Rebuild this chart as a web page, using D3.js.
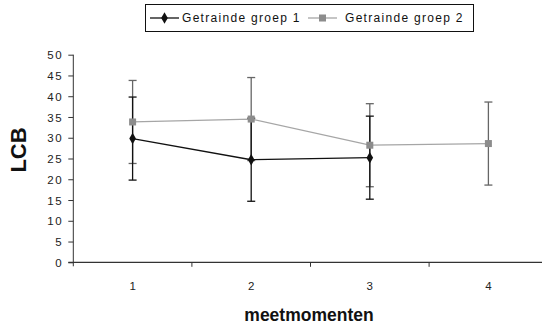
<!DOCTYPE html>
<html><head><meta charset="utf-8">
<script src="https://cdn.jsdelivr.net/npm/d3@7"></script>
<style>
html,body{margin:0;padding:0;background:#fff;}
svg{display:block;font-family:Arial,"Liberation Sans",sans-serif;}
</style></head>
<body><svg id="c" width="542" height="330"></svg>
<script>
const categories = ["1","2","3","4"];
const seriesNames = ["Getrainde groep 1","Getrainde groep 2"];
const group1 = [29.8, 24.7, 25.2, null];
const group2 = [33.8, 34.5, 28.2, 28.6];
const group1Err = [10, 10, 10, null];
const group2Err = [10, 10, 10, 10];
const yTicks = [0,5,10,15,20,25,30,35,40,45,50];
const xTitle = "meetmomenten";
const yTitle = "LCB";

const svg = d3.select("#c");
const x0 = 73.3, step = 118.6;
const x = d3.scaleBand().domain(categories).range([x0, x0 + step*categories.length]).padding(0);
const y = d3.scaleLinear().domain([0,50]).range([262.3, 54.7]);
const cx = d => x(d) + x.bandwidth()/2;

// axes
const axisCol = "#333";
const yAxis = svg.append("g").attr("transform", `translate(${x0},0)`)
  .call(d3.axisLeft(y).tickValues(yTicks).tickSize(5).tickSizeOuter(0).tickPadding(5));
yAxis.select(".domain").attr("stroke", axisCol).attr("d", `M0,${y(50)}V${y(0)+4}`);
yAxis.selectAll(".tick line").attr("stroke", axisCol);
yAxis.selectAll(".tick text").attr("font-size", 11.5).attr("fill", "#222").style("letter-spacing","1.6px").attr("dy","0.36em");

const xAxis = svg.append("g").attr("transform", `translate(0,${y(0)})`)
  .call(d3.axisBottom(x).tickSize(0).tickPadding(20));
xAxis.select(".domain").attr("stroke", axisCol).attr("stroke-width",1.2).attr("d", `M${x0-5},0H${x0+step*4}`);
xAxis.selectAll(".tick text").attr("font-size", 11.5).attr("fill","#222");
categories.forEach(c => {
  if (x(c) > x0) svg.append("line").attr("x1", x(c)).attr("x2", x(c))
    .attr("y1", y(0)).attr("y2", y(0)+4.5).attr("stroke", axisCol);
});

// titles
svg.append("text").attr("x", 309).attr("y", 321).attr("text-anchor","middle")
  .attr("font-size", 17.5).attr("font-weight","bold").attr("fill","#111").text(xTitle);
svg.append("text").attr("transform", `translate(25.5,150) rotate(-90)`).attr("text-anchor","middle")
  .attr("font-size", 22).attr("font-weight","bold").attr("fill","#111").text(yTitle);

// series
const series = [
  {vals: group1, err: group1Err, line: "#111", bar: "#111", marker: "diamond", mcol: "#111"},
  {vals: group2, err: group2Err, line: "#a6a6a6", bar: "#666", marker: "square", mcol: "#8c8c8c"}
];
// error bars (group2 first so group1 on top)
[series[1], series[0]].forEach(s => {
  categories.forEach((c,i) => {
    const v = s.vals[i], e = s.err[i];
    if (v == null) return;
    const g = svg.append("g").attr("stroke", s.bar).attr("stroke-width", 1.3);
    g.append("line").attr("x1", cx(c)).attr("x2", cx(c)).attr("y1", y(v+e)).attr("y2", y(v-e));
    [v+e, v-e].forEach(t => g.append("line").attr("x1", cx(c)-4).attr("x2", cx(c)+4).attr("y1", y(t)).attr("y2", y(t)));
  });
});
const lineGen = d3.line().defined(d => d.v != null).x(d => cx(d.c)).y(d => y(d.v));
series.forEach(s => {
  const pts = categories.map((c,i) => ({c, v: s.vals[i]}));
  svg.append("path").datum(pts).attr("d", lineGen).attr("fill","none").attr("stroke", s.line).attr("stroke-width", 1.3);
});
function marker(g, type, px, py, col) {
  if (type === "diamond") g.append("path").attr("d", d3.symbol(d3.symbolDiamond, 38)()).attr("transform", `translate(${px},${py})`).attr("fill", col);
  else g.append("rect").attr("x", px-3.5).attr("y", py-3.5).attr("width",7).attr("height",7).attr("fill", col);
}
[series[1], series[0]].forEach(s => {
  categories.forEach((c,i) => { if (s.vals[i] != null) marker(svg, s.marker, cx(c), y(s.vals[i]), s.mcol); });
});

// legend
const lg = svg.append("g");
lg.append("rect").attr("x", 145.5).attr("y", 4.5).attr("width", 328).attr("height", 27).attr("fill","#fff").attr("stroke","#111");
const items = [{x: 150, tx: 182}, {x: 308, tx: 345}];
series.forEach((s,i) => {
  const it = items[i];
  lg.append("line").attr("x1", it.x).attr("x2", it.x+29).attr("y1", 18).attr("y2", 18).attr("stroke", s.line).attr("stroke-width",1.3);
  marker(lg, s.marker, it.x+14.5, 18, s.mcol);
  lg.append("text").attr("x", it.tx).attr("y", 22).attr("font-size", 12).attr("fill","#111").style("letter-spacing","1.3px").text(seriesNames[i]);
});
</script></body></html>
